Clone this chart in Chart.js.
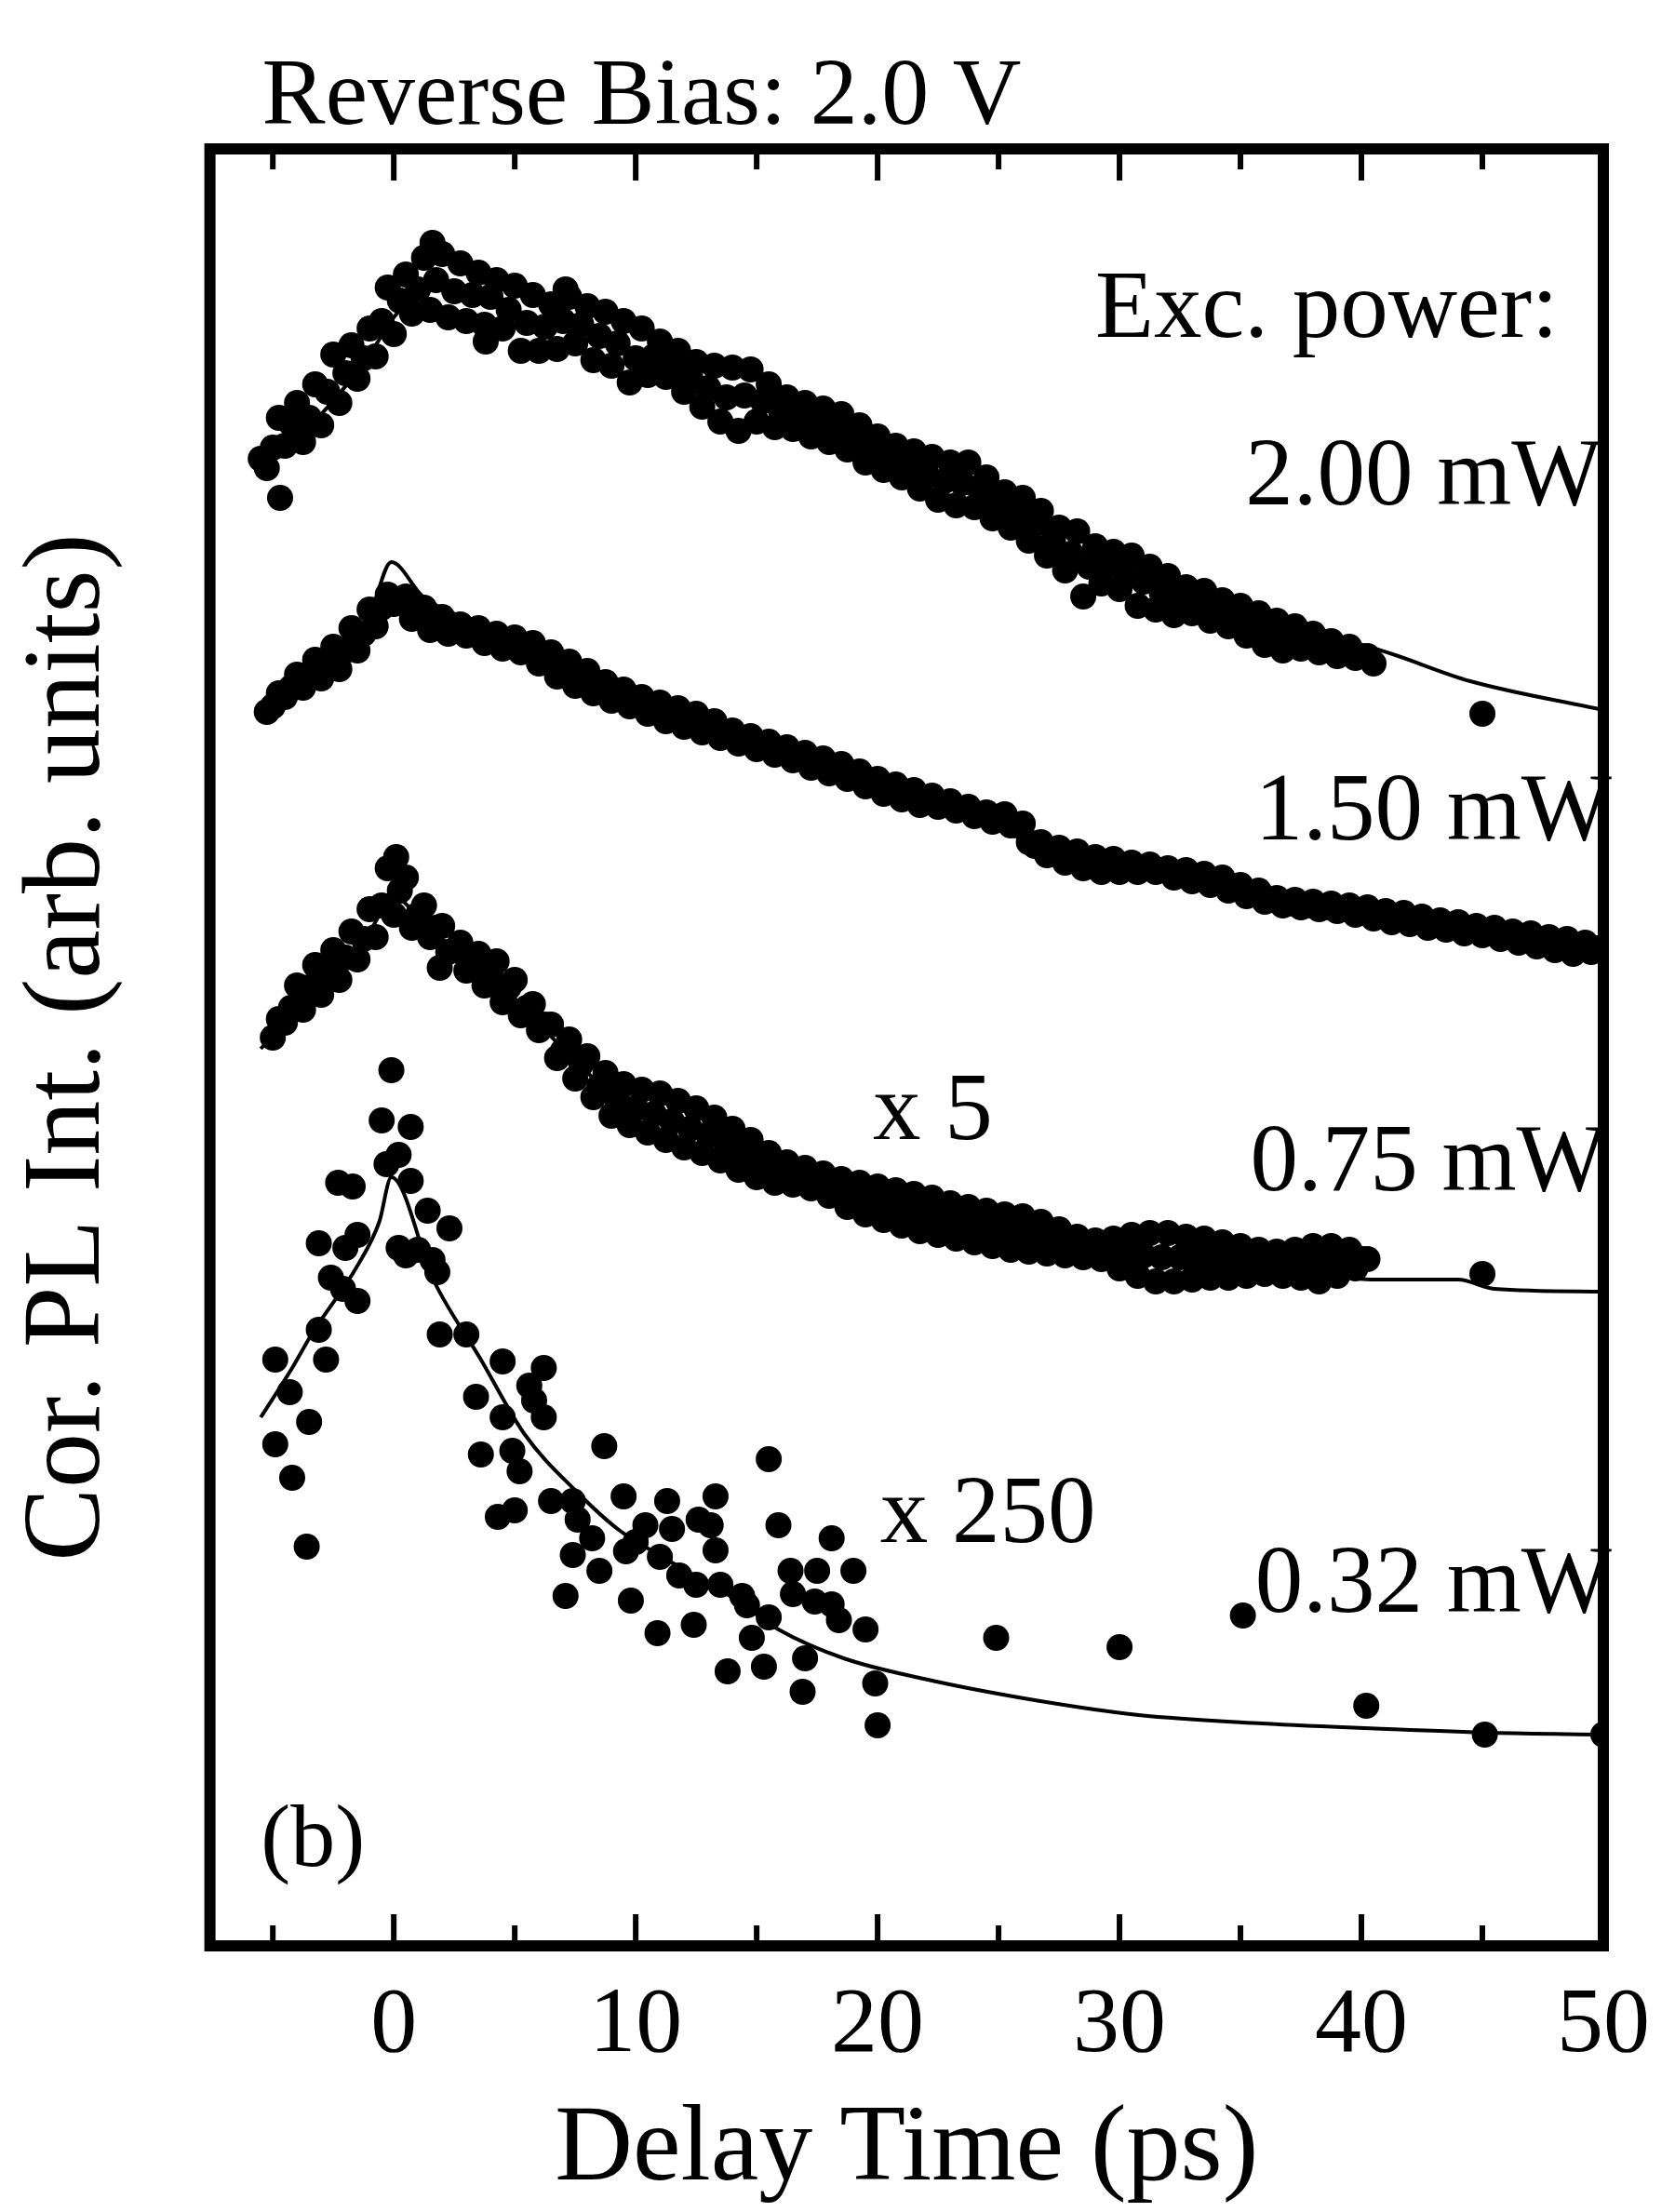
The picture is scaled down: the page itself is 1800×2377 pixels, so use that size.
<!DOCTYPE html>
<html>
<head>
<meta charset="utf-8">
<script src="https://cdn.jsdelivr.net/npm/chart.js@4.4.1/dist/chart.umd.min.js"></script>
<style>
  html, body { margin: 0; padding: 0; background: #fff; }
  #wrap { width: 1800px; height: 2377px; }
</style>
</head>
<body>
<div id="wrap"><canvas id="chart" width="1800" height="2377"></canvas></div>
<script>
// delay grid (ps) shared by the three dense traces
var delay = [
  -5.5,-5.25,-5,-4.75,-4.5,-4.25,-4,-3.75,-3.5,-3.25,-3,-2.75,-2.5,-2.25,-2,-1.75,-1.5,-1.25,-1,-0.75,
  -0.5,-0.25,0,0.25,0.5,0.75,1,1.25,1.5,1.75,2,2.25,2.5,2.75,3,3.25,3.5,3.75,4,4.25,
  4.5,4.75,5,5.25,5.5,5.75,6,6.25,6.5,6.75,7,7.25,7.5,7.75,8,8.25,8.5,8.75,9,9.25,
  9.5,9.75,10,10.25,10.5,10.75,11,11.25,11.5,11.75,12,12.25,12.5,12.75,13,13.25,13.5,13.75,14,14.25,
  14.5,14.75,15,15.25,15.5,15.75,16,16.25,16.5,16.75,17,17.25,17.5,17.75,18,18.25,18.5,18.75,19,19.25,
  19.5,19.75,20,20.25,20.5,20.75,21,21.25,21.5,21.75,22,22.25,22.5,22.75,23,23.25,23.5,23.75,24,24.25,
  24.5,24.75,25,25.25,25.5,25.75,26,26.25,26.5,26.75,27,27.25,27.5,27.75,28,28.25,28.5,28.75,29,29.25,
  29.5,29.75,30,30.25,30.5,30.75,31,31.25,31.5,31.75,32,32.25,32.5,32.75,33,33.25,33.5,33.75,34,34.25,
  34.5,34.75,35,35.25,35.5,35.75,36,36.25,36.5,36.75,37,37.25,37.5,37.75,38,38.25,38.5,38.75,39,39.25,
  39.5,39.75,40,40.25,40.5,40.75,41,41.25,41.5,41.75,42,42.25,42.5,42.75,43,43.25,43.5,43.75,44,44.25,
  44.5,44.75,45,45.25,45.5,45.75,46,46.25,46.5,46.75,47,47.25,47.5,47.75,48,48.25,48.5,48.75,49,49.25,
  49.5,49.75,50
];

// 2.00 mW
var pl200 = [
  80.0,79.5,80.6,82.2,80.7,81.9,83.0,80.9,82.2,84.0,81.8,83.6,85.6,83.0,84.6,86.1,84.3,85.4,87.0,85.5,
  87.4,89.2,86.7,88.5,89.9,87.8,89.1,90.8,88.0,89.6,91.0,87.6,89.0,90.5,87.4,88.8,90.0,87.2,88.7,89.6,
  87.0,88.0,89.3,85.8,87.3,88.8,85.8,87.1,88.3,85.9,87.4,88.7,86.2,87.2,88.2,85.3,86.6,87.9,85.0,86.2,
  87.4,84.1,85.4,87.0,84.5,85.5,86.3,84.4,85.1,85.8,83.6,84.5,85.2,82.8,83.8,85.0,82.0,83.3,84.9,81.5,
  83.4,84.8,82.0,83.1,84.0,81.7,82.6,83.3,81.6,82.2,83.0,81.2,81.9,82.7,80.9,81.6,82.4,80.5,81.1,81.8,
  79.8,80.6,81.2,79.4,80.0,80.7,79.0,79.7,80.4,78.4,79.2,80.1,77.8,78.8,79.8,77.5,78.7,79.8,77.4,78.3,
  79.0,76.8,77.5,78.2,76.3,77.0,77.9,75.6,76.5,77.2,74.8,75.6,76.3,74.0,74.9,76.1,72.6,74.2,75.3,73.3,
  74.3,75.0,73.0,73.8,74.8,72.1,73.4,74.2,71.9,72.8,73.7,71.6,72.4,73.1,71.7,72.2,72.9,71.3,72.0,72.4,
  71.0,71.6,72.1,70.5,71.2,71.7,70.0,70.8,71.3,69.7,70.4,71.0,69.8,70.3,70.6,69.6,69.9,70.2,69.4,69.7,
  69.9,69.3,69.4,69.4,69.0
];
var pl200ExtraTime = [-4.7, 1.6, 3.8, 7.1, 45.0];
var pl200ExtraInt = [77.9, 91.6, 86.3, 89.1, 66.3];

// 1.50 mW
var pl150 = [
  null,66.4,66.7,67.4,67.2,67.7,68.4,67.7,68.4,69.2,68.2,68.9,69.9,68.7,69.7,70.9,69.7,70.6,71.9,71.0,
  72.0,72.7,72.2,72.3,72.6,71.4,71.7,72.0,70.8,71.2,71.5,70.6,70.9,71.1,70.5,70.7,70.9,70.1,70.3,70.6,
  69.8,70.1,70.4,69.6,69.9,70.1,69.0,69.5,69.6,68.3,68.7,69.1,67.8,68.3,68.6,67.4,67.8,68.0,67.0,67.4,
  67.6,66.7,67.0,67.2,66.3,66.6,66.9,65.9,66.2,66.6,65.6,66.0,66.3,65.3,65.6,65.9,65.0,65.3,65.4,64.7,
  64.9,65.1,64.4,64.6,64.8,64.1,64.3,64.5,63.8,64.1,64.2,63.4,63.7,63.9,63.1,63.4,63.6,62.8,63.0,63.2,
  62.4,62.7,62.8,62.0,62.3,62.5,61.7,62.0,62.2,61.4,61.7,61.9,61.3,61.5,61.6,61.1,61.2,61.3,60.8,60.9,
  61.0,60.5,60.6,60.9,60.3,60.3,60.4,59.4,59.2,59.4,58.7,58.9,59.1,58.3,58.5,58.9,58.0,58.3,58.6,57.8,
  58.1,58.5,57.8,58.0,58.3,57.8,58.0,58.2,57.8,57.9,58.0,57.5,57.6,57.9,57.3,57.5,57.7,57.1,57.3,57.5,
  56.8,57.0,57.1,56.5,56.6,56.8,56.2,56.3,56.4,56.0,56.1,56.3,55.9,56.0,56.2,55.8,55.9,56.1,55.7,55.8,
  56.0,55.5,55.7,55.9,55.3,55.5,55.7,55.1,55.3,55.6,55.0,55.2,55.4,54.8,55.0,55.2,54.7,54.8,55.1,54.5,
  54.7,54.9,54.4,54.6,54.8,54.2,54.4,54.6,54.0,54.2,54.5,53.8,54.1,54.3,53.6,53.9,54.2,53.4,53.7,54.0,
  53.5,53.7,53.7
];

// 0.75 mW (x 5)
var pl075 = [
  null,null,48.9,49.9,49.7,50.5,51.7,50.4,51.6,52.8,51.2,52.3,53.6,52.0,53.2,54.6,53.1,54.2,55.8,54.3,
  56.0,58.0,55.5,56.8,57.5,54.8,55.5,56.0,54.3,54.8,54.9,53.5,53.6,54.0,52.5,53.0,53.4,51.7,52.3,53.0,
  50.8,51.6,52.0,50.1,50.5,50.7,49.3,49.6,49.6,47.8,48.2,48.8,46.7,47.5,47.9,45.7,46.3,47.0,44.7,45.5,
  46.4,44.2,45.1,46.1,43.8,44.8,45.9,43.4,44.4,45.5,43.0,44.0,45.1,42.7,43.7,44.6,42.3,43.2,44.0,41.8,
  42.6,43.4,41.4,42.1,42.7,41.1,41.7,42.2,41.0,41.4,41.9,40.8,41.2,41.6,40.4,40.9,41.3,39.8,40.4,41.1,
  39.4,40.1,40.9,39.1,39.9,40.7,38.8,39.6,40.5,38.5,39.4,40.3,38.3,39.1,40.0,38.1,38.9,39.8,37.9,38.7,
  39.6,37.7,38.6,39.4,37.5,38.4,39.3,37.4,38.3,39.0,37.3,38.0,38.6,37.2,37.7,38.2,37.1,37.6,38.0,37.0,
  37.4,38.1,36.5,37.3,38.3,36.1,37.2,38.4,35.8,37.1,38.4,35.8,37.1,38.2,35.9,37.0,38.1,36.0,37.0,37.9,
  36.0,36.9,37.7,36.1,36.8,37.5,36.2,36.8,37.4,36.1,36.8,37.5,36.0,36.8,37.7,35.8,36.8,37.7,36.1,36.8,
  37.5,36.5,37.0,37.0
];
var pl075ExtraTime = [0.1, 1.9, 45.0];
var pl075ExtraInt = [58.6, 52.65, 36.2];

// 0.32 mW (x 250), sparse
var pl032Time = [
  -0.1,-0.5,0.7,-0.3,0.2,-2.3,-1.7,0.7,1.4,-3.1,-1.5,2.3,0.5,1.6,0.2,-2.1,-1.5,-2.6,-2.0,-3.1,
  -2.8,-4.9,-4.3,-3.5,-4.9,-4.2,-3.6,1.9,3.0,1.8,1.0,4.5,6.2,5.6,3.4,4.5,5.8,3.6,4.9,5.2,
  6.2,8.7,4.3,5.0,6.5,7.4,7.6,9.5,8.2,9.6,11.3,13.3,15.5,15.9,18.1,13.1,7.4,8.5,10.0,10.4,
  11.0,11.5,12.6,7.1,9.8,10.9,11.8,12.4,12.5,13.3,13.5,14.4,14.6,15.5,16.4,16.5,17.5,17.4,18.4,19.0,
  18.1,19.5,14.8,15.3,13.8,17.0,16.9,19.9,20.0,24.9,30.0,35.1,40.2,45.1,50.0
];
var pl032Int = [
  47.15,44.45,44.1,42.1,42.6,41.1,40.9,41.2,39.6,37.85,38.3,38.65,37.2,36.95,37.6,35.4,34.75,36.0,37.6,33.2,
  31.6,31.6,29.85,28.25,27.05,25.25,21.55,32.95,32.95,36.3,37.5,31.5,31.15,30.2,29.6,28.5,29.4,26.5,26.7,25.6,
  28.5,26.95,23.15,23.5,24.0,24.0,23.0,24.25,22.0,21.3,24.0,24.25,26.25,22.7,22.0,22.7,21.1,20.25,21.8,22.7,
  21.0,22.5,23.0,18.9,18.65,16.9,20.0,17.35,19.5,21.35,19.5,18.9,18.4,17.75,20.25,19.0,20.25,18.6,17.6,20.25,
  18.45,17.1,16.65,15.1,14.85,15.55,13.75,14.2,11.95,16.65,16.15,17.85,13.0,11.45,11.45
];

// fitted curves
var fit200Time = [-5.5,-3,-1,0,1,2,3,5,8,10,13,16,19,22,25,28,31,34,37,40.4,44.5,50];
var fit200Int = [79.6,82.4,85.6,87.6,88.9,89.3,89.0,87.8,86.7,85.7,84.0,82.4,81.0,79.2,77.4,75.2,73.4,72.0,70.6,69.85,68.05,66.5];
var fit150Time = [-5.5,-3,-1,-0.1,1.2,3,5,7,10,13,16,19,22,25,28,31,34,37,40,43,46,50];
var fit150Int = [66.2,69.0,71.6,74.45,72.6,71.4,70.4,69.3,67.2,65.7,64.4,63.1,61.8,60.7,58.8,58.1,57.3,56.2,55.7,55.0,54.4,53.7];
var fit075Time = [-5.5,-3,-1,0,1,3,5,7,9,11,13,15,17,19,21,23,25,28,31,34,37,40.6,44,45.5,50];
var fit075Int = [48.3,51.8,54.6,56.5,55.4,53.0,51.0,48.3,45.9,44.6,43.6,42.2,41.3,40.4,39.6,39.0,38.5,37.8,37.2,36.8,36.5,35.9,35.9,35.4,35.25];
var fit032Time = [-5.5,-4.2,-3.4,-1.5,-0.6,-0.1,1.65,3.6,5.4,7.6,9.3,10.9,14.2,15.9,18.6,21.9,26.5,30.8,35.9,41.1,45.4,50];
var fit032Int = [28.5,31.15,32.95,36.65,39.0,41.4,35.85,31.6,27.6,24.45,22.45,21.15,18.65,17.1,15.55,14.45,13.3,12.5,12.05,11.75,11.55,11.45];

var majorTicks = [0, 10, 20, 30, 40, 50];
var minorTicks = [-5, 5, 15, 25, 35, 45];

var serif = "'Liberation Serif', 'Times New Roman', serif";

function pairs(times, vals) {
  var out = [];
  for (var i = 0; i < times.length; i++) {
    if (vals[i] != null) out.push({ x: times[i], y: vals[i] });
  }
  return out;
}

function dots(data) {
  return { data: data, showLine: false, pointRadius: 14, pointHoverRadius: 14,
           pointBackgroundColor: '#000', pointBorderWidth: 0, borderColor: '#000' };
}
function fit(data) {
  return { data: data, showLine: true, pointRadius: 0, borderColor: '#000', borderWidth: 4,
           cubicInterpolationMode: 'monotone', fill: false };
}

// frame with inward ticks on top and bottom
var framePlugin = {
  id: 'frame',
  afterDatasetsDraw: function (chart) {
    var ctx = chart.ctx, a = chart.chartArea, xs = chart.scales.x;
    ctx.save();
    ctx.strokeStyle = '#000';
    ctx.lineWidth = 12;
    ctx.strokeRect(a.left, a.top, a.right - a.left, a.bottom - a.top);
    ctx.lineWidth = 6;
    function tick(v, len) {
      var px = xs.getPixelForValue(v);
      ctx.beginPath();
      ctx.moveTo(px, a.bottom); ctx.lineTo(px, a.bottom - len);
      ctx.moveTo(px, a.top); ctx.lineTo(px, a.top + len);
      ctx.stroke();
    }
    majorTicks.forEach(function (v) { tick(v, 34); });
    minorTicks.forEach(function (v) { tick(v, 22); });
    ctx.restore();
  }
};

var textPlugin = {
  id: 'texts',
  afterDraw: function (chart) {
    var ctx = chart.ctx, a = chart.chartArea, xs = chart.scales.x, ys = chart.scales.y;
    ctx.save();
    ctx.fillStyle = '#000';
    ctx.textBaseline = 'alphabetic';
    ctx.textAlign = 'left';
    ctx.font = '102px ' + serif;
    ctx.fillText('Reverse Bias: 2.0 V', a.left + 56, a.top - 27);
    var notes = [
      ['Exc. power:', 29.0, 86.55],
      ['2.00 mW', 35.2, 77.55],
      ['1.50 mW', 35.6, 59.55],
      ['0.75 mW', 35.4, 40.7],
      ['0.32 mW', 35.6, 18.05],
      ['x 5', 19.8, 43.45],
      ['x 250', 20.1, 21.8]
    ];
    ctx.font = '103px ' + serif;
    notes.forEach(function (n) {
      ctx.fillText(n[0], xs.getPixelForValue(n[1]), ys.getPixelForValue(n[2]));
    });
    ctx.font = '96px ' + serif;
    ctx.fillText('(b)', xs.getPixelForValue(-5.5), ys.getPixelForValue(4.4));
    ctx.restore();
  }
};

var ctx = document.getElementById('chart').getContext('2d');
var chart = new Chart(ctx, {
  type: 'scatter',
  data: {
    datasets: [
      fit(pairs(fit200Time, fit200Int)),
      fit(pairs(fit150Time, fit150Int)),
      fit(pairs(fit075Time, fit075Int)),
      fit(pairs(fit032Time, fit032Int)),
      dots(pairs(delay, pl200)),
      dots(pairs(pl200ExtraTime, pl200ExtraInt)),
      dots(pairs(delay, pl150)),
      dots(pairs(delay, pl075)),
      dots(pairs(pl075ExtraTime, pl075ExtraInt)),
      dots(pairs(pl032Time, pl032Int))
    ]
  },
  options: {
    responsive: false,
    animation: false,
    layout: { padding: { left: 4, right: 72, top: 160, bottom: 19.2 } },
    scales: {
      x: {
        type: 'linear',
        min: -7.6,
        max: 50,
        afterBuildTicks: function (scale) {
          scale.ticks = majorTicks.map(function (v) { return { value: v }; });
        },
        grid: { display: false, drawTicks: false },
        border: { display: false },
        ticks: {
          color: '#000',
          padding: 27,
          font: { family: serif, size: 100, lineHeight: 1.2 },
          callback: function (value) { return String(value); }
        },
        title: {
          display: true,
          text: 'Delay Time (ps)',
          color: '#000',
          padding: { top: 0, bottom: 0 },
          font: { family: serif, size: 116, lineHeight: 0.8 }
        }
      },
      y: {
        type: 'linear',
        min: 0.1,
        max: 96.65,
        grid: { display: false, drawTicks: false },
        border: { display: false },
        ticks: { display: false },
        title: {
          display: true,
          text: 'Cor. PL Int. (arb. units)',
          color: '#000',
          padding: { top: 0, bottom: 80 },
          font: { family: serif, size: 118, lineHeight: 1.2 }
        }
      }
    },
    plugins: {
      legend: { display: false },
      tooltip: { enabled: false }
    }
  },
  plugins: [framePlugin, textPlugin]
});
</script>
</body>
</html>
